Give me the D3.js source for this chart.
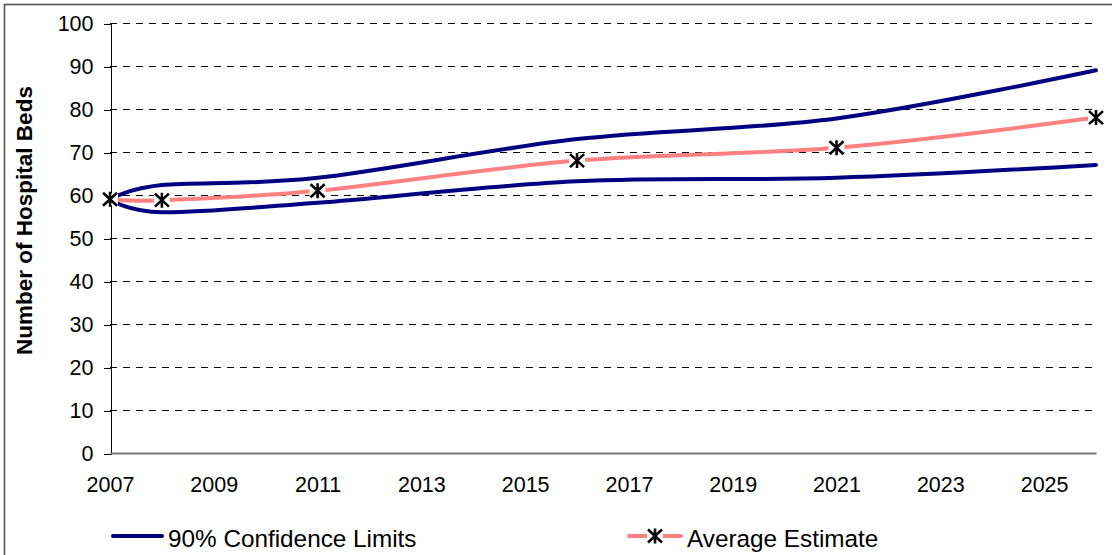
<!DOCTYPE html>
<html>
<head>
<meta charset="utf-8">
<script src="https://cdn.jsdelivr.net/npm/d3@7"></script>
<style>
  html, body { margin: 0; padding: 0; background: #fff; }
  svg { display: block; font-family: "Liberation Sans", Arial, sans-serif; }
</style>
</head>
<body>
<svg id="chart" width="1112" height="555"></svg>
<script>
// ---- data ----
const years = [2007, 2008, 2011, 2016, 2021, 2026];
const upperLimit = [59, 62.3, 64, 73, 77.8, 89];
const lowerLimit = [59, 56, 58.2, 63.2, 64, 67];
const averageEstimate = [59, 58.8, 61, 68, 71, 78];
const xTickLabels = [2007, 2009, 2011, 2013, 2015, 2017, 2019, 2021, 2023, 2025];
const yTickLabels = [0, 10, 20, 30, 40, 50, 60, 70, 80, 90, 100];
const seriesNames = ["90% Confidence Limits", "Average Estimate"];
const yTitle = "Number of Hospital Beds";

// ---- layout ----
const svg = d3.select("#chart");
const plotL = 110, plotR = 1096, plotT = 23, plotB = 453;
const x = d3.scaleLinear().domain([2007, 2026]).range([plotL, plotR]);
const y = d3.scaleLinear().domain([0, 100]).range([plotB, plotT]);

// outer frame
svg.append("rect").attr("x", 4.5).attr("y", 4.5).attr("width", 1200).attr("height", 700)
  .attr("fill", "none").attr("stroke", "#555").attr("stroke-width", 1.6);

// gridlines
svg.append("g").selectAll("line").data(yTickLabels.filter(d => d > 0)).join("line")
  .attr("x1", plotL).attr("x2", plotR)
  .attr("y1", d => Math.round(y(d)) + 0.5).attr("y2", d => Math.round(y(d)) + 0.5)
  .attr("stroke", "#000").attr("stroke-width", 1)
  .attr("shape-rendering", "crispEdges")
  .attr("stroke-dasharray", "7,6");

// y axis
const yAxis = svg.append("g").attr("transform", `translate(${plotL + 0.5},0.5)`)
  .call(d3.axisLeft(y).tickValues(yTickLabels).tickSize(7).tickPadding(10).tickFormat(d3.format("d")));
yAxis.select(".domain").attr("stroke", "#000").attr("stroke-width", 1).attr("shape-rendering", "crispEdges");
yAxis.selectAll(".tick line").attr("stroke", "#000").attr("shape-rendering", "crispEdges");
yAxis.selectAll(".tick text").attr("font-size", 21.5).attr("fill", "#000")
  .attr("font-family", "Liberation Sans, Arial, sans-serif");

// x axis
const xAxis = svg.append("g").attr("transform", `translate(0,${plotB})`)
  .call(d3.axisBottom(x).tickValues(xTickLabels).tickSize(0).tickPadding(24).tickFormat(d3.format("d")));
xAxis.select(".domain").attr("stroke", "#777").attr("stroke-width", 2);
xAxis.selectAll(".tick text").attr("font-size", 21.5).attr("fill", "#000")
  .attr("font-family", "Liberation Sans, Arial, sans-serif");

// y title
svg.append("text")
  .attr("transform", `translate(32,220.5) rotate(-90)`)
  .attr("text-anchor", "middle")
  .attr("font-size", 22.5).attr("font-weight", "bold").attr("fill", "#000")
  .text(yTitle);

// lines
const curve = d3.curveCardinal.tension(0);
const line = d3.line().x(d => x(d[0])).y(d => y(d[1])).curve(curve);
const zip = arr => years.map((yr, i) => [yr, arr[i]]);

svg.append("path").datum(zip(upperLimit)).attr("d", line)
  .attr("fill", "none").attr("stroke", "#000080").attr("stroke-width", 4).attr("stroke-linecap", "round");
svg.append("path").datum(zip(lowerLimit)).attr("d", line)
  .attr("fill", "none").attr("stroke", "#000080").attr("stroke-width", 4).attr("stroke-linecap", "round");
svg.append("path").datum(zip(averageEstimate)).attr("d", line)
  .attr("fill", "none").attr("stroke", "#FF8080").attr("stroke-width", 4);

// markers
const starPath = "M-7,-6.5L7,6.5M-7,6.5L7,-6.5M0,-7.5L0,7.5";
function drawMarker(g, cx, cy) {
  const m = g.append("g").attr("transform", `translate(${cx},${cy})`);
  m.append("rect").attr("x", -8).attr("y", -6).attr("width", 16).attr("height", 12).attr("fill", "#fff");
  m.append("path").attr("d", starPath).attr("stroke", "#000").attr("stroke-width", 2.6).attr("fill", "none");
}
const mg = svg.append("g");
zip(averageEstimate).forEach(d => drawMarker(mg, x(d[0]), y(d[1])));

// legend
const lg = svg.append("g");
lg.append("line").attr("x1", 113).attr("x2", 162).attr("y1", 536).attr("y2", 536)
  .attr("stroke", "#000080").attr("stroke-width", 4).attr("stroke-linecap", "round");
lg.append("text").attr("x", 168).attr("y", 547).attr("font-size", 24.3).attr("fill", "#000").text(seriesNames[0]);
lg.append("line").attr("x1", 629).attr("x2", 681).attr("y1", 536).attr("y2", 536)
  .attr("stroke", "#FF8080").attr("stroke-width", 4).attr("stroke-linecap", "round");
drawMarker(lg, 655, 536);
lg.append("text").attr("x", 687).attr("y", 547).attr("font-size", 24.3).attr("fill", "#000").text(seriesNames[1]);
</script>
</body>
</html>
